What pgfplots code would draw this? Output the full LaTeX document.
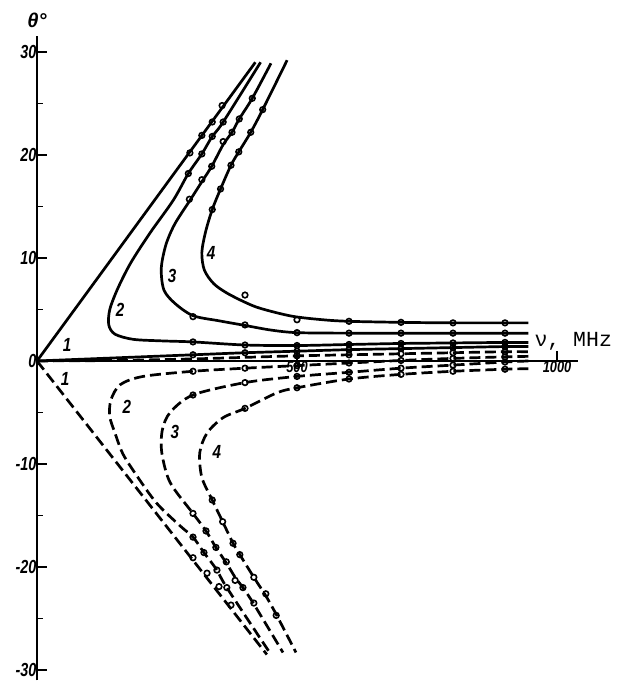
\documentclass[border=0pt]{standalone}
\usepackage{graphicx}
\usepackage{fontspec}
\usepackage{pgfplots}
\pgfplotsset{compat=1.18}
\newfontfamily\tickfont{Liberation Sans}
\newfontfamily\monofont{Liberation Mono}
\newcommand{\tl}[1]{{\fontsize{18}{18}\selectfont\tickfont\bfseries\itshape\scalebox{0.8}[1.05]{#1}}}
\newcommand{\xl}[1]{{\fontsize{16}{16}\selectfont\tickfont\bfseries\itshape\scalebox{0.8}[1]{#1}}}
\newcommand{\cl}[1]{{\fontsize{19}{19}\selectfont\tickfont\bfseries\itshape\scalebox{0.8}[1]{#1}}}
\begin{document}
\begin{tikzpicture}
\useasboundingbox (0,0) rectangle (618pt,683pt);
\begin{axis}[
  at={(37pt,2.7pt)}, anchor=south west,
  scale only axis, width=540.8pt, height=643.8pt,
  xmin=0, xmax=1040, ymin=-31, ymax=31.5,
  axis x line*=middle, axis y line*=left,
  clip=false,
  x axis line style={line width=2.2pt},
  y axis line style={line width=2.4pt},
  ytick={-30,-20,-10,0,10,20,30},
  yticklabels={\tl{-30},\tl{-20},\tl{-10},\tl{0},\tl{10},\tl{20},\tl{30}},
  minor ytick={-25,-15,-5,5,15,25},
  xtick={500,1000}, xticklabels={\xl{500},\xl{1000}},
  tick align=inside,
  major tick length=10pt, minor tick length=6pt,
  every tick/.style={black, line width=1.8pt},
  yticklabel style={xshift=3pt},
  xticklabel style={yshift=3pt},
  ylabel={\fontsize{20}{20}\selectfont\tickfont\bfseries\itshape θ°},
  every axis y label/.style={at={(axis description cs:0,1)}, anchor=south, yshift=5pt},
  xlabel={\fontsize{21.5}{21.5}\selectfont\monofont ν, MHz},
  every axis x label/.style={at={(axis cs:950,1.4)}, anchor=base west},
  solid curve/.style={black, line width=2.7pt, smooth},
  dashed curve/.style={black, line width=2.7pt, smooth, dash pattern=on 11pt off 5pt},
  pts/.style={only marks, mark=o, mark size=2.8pt, black, mark options={line width=1.6pt, fill=white}},
]
% ---- solid (upper) curves ----
\addplot[solid curve, smooth=false] coordinates {(0,0) (420,29)};
\addplot[solid curve] coordinates {(0,0) (150,0.3) (300,0.6) (400,0.8) (500,0.95) (600,1.1) (700,1.2) (800,1.3) (900,1.4) (945,1.4)};
\addplot[solid curve] coordinates {(430,29) (358,23.2) (337,21.8) (317,20.1) (291,18.2) (262,15.6) (217,12.4) (180,9.5) (155,7.0) (140,5.0) (138,3.5) (150,2.6) (185,2.1) (240,1.95) (300,1.85) (400,1.55) (500,1.5) (600,1.6) (700,1.7) (800,1.75) (900,1.8) (945,1.8)};
\addplot[solid curve] coordinates {(450,28.9) (414,25.5) (389,23.5) (375,22.2) (358,21.0) (336,18.9) (317,17.4) (293,15.5) (265,13.3) (248,11.3) (239,9.0) (244,6.9) (265,5.6) (300,4.4) (350,3.9) (400,3.45) (450,3.0) (500,2.75) (600,2.7) (700,2.7) (800,2.7) (945,2.7)};
\addplot[solid curve] coordinates {(481,29.2) (434,24.4) (411,22.2) (388,20.3) (373,19.0) (353,16.7) (337,14.7) (324,12.5) (317,10.5) (322,8.8) (340,7.5) (365,6.6) (400,5.7) (430,5.1) (490,4.35) (550,4.0) (600,3.85) (700,3.75) (800,3.7) (945,3.7)};
% ---- dashed (lower) curves ----
\addplot[dashed curve, smooth=false] coordinates {(0,0) (442,-28.5)};
\addplot[dashed curve] coordinates {(0,0) (150,0.05) (300,0.2) (400,0.35) (500,0.5) (600,0.6) (700,0.7) (800,0.8) (900,0.9) (945,0.9)};
\addplot[dashed curve] coordinates {(945,0.45) (900,0.4) (800,0.25) (700,0.05) (600,-0.2) (500,-0.45) (400,-0.7) (300,-1.0) (204,-1.5) (160,-2.3) (142,-3.8) (140,-5.4) (150,-7.0) (165,-9.0) (190,-11.0) (230,-13.8) (275,-16.0) (300,-17.1) (321,-18.6) (346,-20.3) (365,-22.0) (450,-28.5)};
\addplot[dashed curve] coordinates {(945,0) (900,-0.1) (800,-0.4) (700,-0.7) (600,-1.1) (500,-1.5) (400,-2.1) (300,-3.3) (256,-5.0) (241,-6.7) (240,-8.9) (256,-11.8) (300,-14.8) (325,-16.5) (344,-18.1) (364,-19.6) (381,-21.0) (396,-22.0) (417,-23.6) (473,-28.3)};
\addplot[dashed curve] coordinates {(945,-0.75) (900,-0.8) (800,-1.0) (700,-1.3) (600,-1.75) (500,-2.6) (461,-3.1) (400,-4.6) (358,-5.5) (327,-7.0) (313,-8.9) (317,-11.3) (337,-13.5) (357,-15.6) (377,-17.7) (390,-18.8) (417,-21.0) (440,-22.8) (460,-24.6) (498,-28.3)};
% ---- measured points ----
\addplot[pts] coordinates {(294,20.2) (317,21.9) (337,23.2) (356,24.8)
  (291,18.2) (317,20.1) (337,21.8) (358,23.2)
  (293,15.7) (317,17.6) (336,18.9) (358,21.3) (375,22.2) (389,23.5) (414,25.5)
  (337,14.7) (353,16.7) (373,19.0) (388,20.3) (411,22.2) (434,24.4)};
\addplot[pts] coordinates {(300,4.3) (300,1.85) (300,0.6)
  (400,6.4) (400,3.5) (400,1.55) (400,0.8)
  (500,4.0) (500,2.75) (500,1.5) (500,0.95)
  (600,3.85) (600,2.7) (600,1.6) (600,1.1)
  (700,3.75) (700,2.7) (700,1.7) (700,1.2)
  (800,3.7) (800,2.7) (800,1.75) (800,1.3)
  (900,3.7) (900,2.7) (900,1.8) (900,1.4)};
\addplot[pts] coordinates {(300,-1.0) (300,-3.3) (400,-0.7) (400,-2.1) (400,-4.6)
  (500,0.5) (500,-0.45) (500,-1.5) (500,-2.6)
  (600,0.6) (600,-0.2) (600,-1.1) (600,-1.75)
  (700,0.7) (700,0.05) (700,-0.7) (700,-1.3)
  (800,0.8) (800,0.25) (800,-0.4) (800,-1.0)
  (900,0.9) (900,0.4) (900,-0.1) (900,-0.8)};
\addplot[pts] coordinates {(300,-19.1) (327,-20.6) (350,-21.9) (373,-23.7)
  (300,-17.1) (321,-18.6) (346,-20.3) (365,-22.0)
  (300,-14.8) (325,-16.5) (344,-18.1) (364,-19.5) (381,-21.3) (396,-22.0) (417,-23.5)
  (337,-13.5) (357,-15.6) (377,-17.7) (390,-18.8) (417,-21.0) (440,-22.6) (460,-24.7)};
% ---- curve numbers ----
\node at (axis cs:58,1.6) {\cl{1}};
\node at (axis cs:54,-1.7) {\cl{1}};
\node at (axis cs:160,5.0) {\cl{2}};
\node at (axis cs:260,8.3) {\cl{3}};
\node at (axis cs:335,10.5) {\cl{4}};
\node at (axis cs:173,-4.5) {\cl{2}};
\node at (axis cs:265,-6.9) {\cl{3}};
\node at (axis cs:346,-8.8) {\cl{4}};
\end{axis}
\end{tikzpicture}
\end{document}
